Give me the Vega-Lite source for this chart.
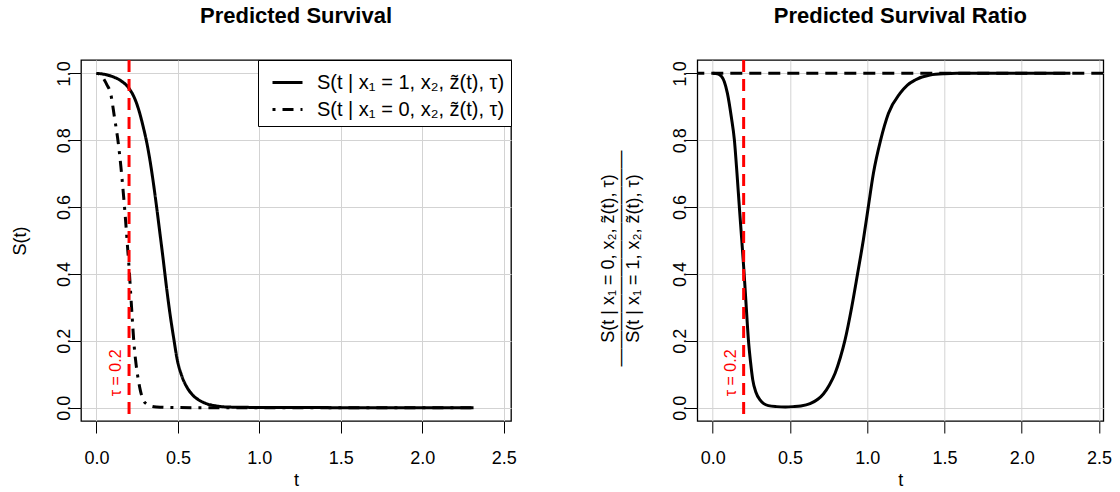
{
  "$schema": "https://vega.github.io/schema/vega-lite/v6.json",
  "autosize": {"type": "none"},
  "padding": {"left": 81, "top": 60, "right": 1039, "bottom": 432},
  "bounds": "flush",
  "spacing": 186.3,
  "background": "white",
  "config": {
    "font": "Liberation Sans",
    "view": {"stroke": "black", "strokeWidth": 1.3},
    "axis": {
      "domain": false, "grid": true, "gridColor": "#d3d3d3", "gridWidth": 1,
      "tickColor": "black", "tickSize": 12, "tickWidth": 1,
      "labelFontSize": 18, "labelColor": "black", "labelFont": "Liberation Sans",
      "titleFontSize": 18, "titleFontWeight": "normal", "titleColor": "black", "titleFont": "Liberation Sans",
      "titleLimit": 1000, "labelOverlap": false
    },
    "axisX": {"labelBaseline": "alphabetic", "labelPadding": 30, "titleBaseline": "alphabetic", "titleY": 64},
    "axisY": {"labelAngle": 270, "labelAlign": "center", "labelBaseline": "alphabetic", "labelPadding": 0, "titleAngle": 270, "titleBaseline": "alphabetic", "titleAlign": "center"},
    "title": {"fontSize": 22, "font": "Liberation Sans", "fontWeight": "bold", "frame": "group", "anchor": "middle", "baseline": "alphabetic", "offset": 31, "color": "black"},
    "legend": {
      "title": null, "orient": "top-right", "offset": 0, "padding": 6, "symbolOffset": 7,
      "strokeColor": "black", "fillColor": "white",
      "symbolType": "stroke", "symbolSize": 900, "symbolStrokeWidth": 3, "symbolStrokeColor": "black",
      "labelFontSize": 20, "labelFont": "Liberation Sans", "labelLimit": 400, "labelOffset": 13,
      "rowPadding": -8, "labelColor": "black"
    }
  },
  "datasets": {
    "surv": [
      {"t": 0, "S": 1.0, "series": "S(t | x₁ = 1, x₂, z̃(t), τ)"},
      {"t": 0.05, "S": 0.997, "series": "S(t | x₁ = 1, x₂, z̃(t), τ)"},
      {"t": 0.1, "S": 0.99, "series": "S(t | x₁ = 1, x₂, z̃(t), τ)"},
      {"t": 0.15, "S": 0.978, "series": "S(t | x₁ = 1, x₂, z̃(t), τ)"},
      {"t": 0.2, "S": 0.955, "series": "S(t | x₁ = 1, x₂, z̃(t), τ)"},
      {"t": 0.23, "S": 0.93, "series": "S(t | x₁ = 1, x₂, z̃(t), τ)"},
      {"t": 0.26, "S": 0.89, "series": "S(t | x₁ = 1, x₂, z̃(t), τ)"},
      {"t": 0.287, "S": 0.84, "series": "S(t | x₁ = 1, x₂, z̃(t), τ)"},
      {"t": 0.31, "S": 0.79, "series": "S(t | x₁ = 1, x₂, z̃(t), τ)"},
      {"t": 0.328, "S": 0.741, "series": "S(t | x₁ = 1, x₂, z̃(t), τ)"},
      {"t": 0.35, "S": 0.67, "series": "S(t | x₁ = 1, x₂, z̃(t), τ)"},
      {"t": 0.369, "S": 0.601, "series": "S(t | x₁ = 1, x₂, z̃(t), τ)"},
      {"t": 0.39, "S": 0.52, "series": "S(t | x₁ = 1, x₂, z̃(t), τ)"},
      {"t": 0.41, "S": 0.442, "series": "S(t | x₁ = 1, x₂, z̃(t), τ)"},
      {"t": 0.43, "S": 0.36, "series": "S(t | x₁ = 1, x₂, z̃(t), τ)"},
      {"t": 0.451, "S": 0.282, "series": "S(t | x₁ = 1, x₂, z̃(t), τ)"},
      {"t": 0.475, "S": 0.205, "series": "S(t | x₁ = 1, x₂, z̃(t), τ)"},
      {"t": 0.496, "S": 0.143, "series": "S(t | x₁ = 1, x₂, z̃(t), τ)"},
      {"t": 0.52, "S": 0.1, "series": "S(t | x₁ = 1, x₂, z̃(t), τ)"},
      {"t": 0.553, "S": 0.063, "series": "S(t | x₁ = 1, x₂, z̃(t), τ)"},
      {"t": 0.59, "S": 0.038, "series": "S(t | x₁ = 1, x₂, z̃(t), τ)"},
      {"t": 0.635, "S": 0.021, "series": "S(t | x₁ = 1, x₂, z̃(t), τ)"},
      {"t": 0.68, "S": 0.011, "series": "S(t | x₁ = 1, x₂, z̃(t), τ)"},
      {"t": 0.737, "S": 0.005, "series": "S(t | x₁ = 1, x₂, z̃(t), τ)"},
      {"t": 0.8, "S": 0.002, "series": "S(t | x₁ = 1, x₂, z̃(t), τ)"},
      {"t": 0.9, "S": 0.001, "series": "S(t | x₁ = 1, x₂, z̃(t), τ)"},
      {"t": 1.0, "S": 0.0005, "series": "S(t | x₁ = 1, x₂, z̃(t), τ)"},
      {"t": 1.2, "S": 0.0002, "series": "S(t | x₁ = 1, x₂, z̃(t), τ)"},
      {"t": 1.5, "S": 0.0, "series": "S(t | x₁ = 1, x₂, z̃(t), τ)"},
      {"t": 2.0, "S": 0.0, "series": "S(t | x₁ = 1, x₂, z̃(t), τ)"},
      {"t": 2.315, "S": 0.0, "series": "S(t | x₁ = 1, x₂, z̃(t), τ)"},
      {"t": 0, "S": 1.0, "series": "S(t | x₁ = 0, x₂, z̃(t), τ)"},
      {"t": 0.02, "S": 0.997, "series": "S(t | x₁ = 0, x₂, z̃(t), τ)"},
      {"t": 0.042, "S": 0.985, "series": "S(t | x₁ = 0, x₂, z̃(t), τ)"},
      {"t": 0.065, "S": 0.965, "series": "S(t | x₁ = 0, x₂, z̃(t), τ)"},
      {"t": 0.087, "S": 0.94, "series": "S(t | x₁ = 0, x₂, z̃(t), τ)"},
      {"t": 0.11, "S": 0.87, "series": "S(t | x₁ = 0, x₂, z̃(t), τ)"},
      {"t": 0.134, "S": 0.791, "series": "S(t | x₁ = 0, x₂, z̃(t), τ)"},
      {"t": 0.15, "S": 0.72, "series": "S(t | x₁ = 0, x₂, z̃(t), τ)"},
      {"t": 0.165, "S": 0.641, "series": "S(t | x₁ = 0, x₂, z̃(t), τ)"},
      {"t": 0.178, "S": 0.565, "series": "S(t | x₁ = 0, x₂, z̃(t), τ)"},
      {"t": 0.189, "S": 0.492, "series": "S(t | x₁ = 0, x₂, z̃(t), τ)"},
      {"t": 0.2, "S": 0.42, "series": "S(t | x₁ = 0, x₂, z̃(t), τ)"},
      {"t": 0.21, "S": 0.342, "series": "S(t | x₁ = 0, x₂, z̃(t), τ)"},
      {"t": 0.22, "S": 0.265, "series": "S(t | x₁ = 0, x₂, z̃(t), τ)"},
      {"t": 0.23, "S": 0.193, "series": "S(t | x₁ = 0, x₂, z̃(t), τ)"},
      {"t": 0.243, "S": 0.13, "series": "S(t | x₁ = 0, x₂, z̃(t), τ)"},
      {"t": 0.257, "S": 0.083, "series": "S(t | x₁ = 0, x₂, z̃(t), τ)"},
      {"t": 0.27, "S": 0.05, "series": "S(t | x₁ = 0, x₂, z̃(t), τ)"},
      {"t": 0.287, "S": 0.023, "series": "S(t | x₁ = 0, x₂, z̃(t), τ)"},
      {"t": 0.31, "S": 0.01, "series": "S(t | x₁ = 0, x₂, z̃(t), τ)"},
      {"t": 0.34, "S": 0.004, "series": "S(t | x₁ = 0, x₂, z̃(t), τ)"},
      {"t": 0.37, "S": 0.002, "series": "S(t | x₁ = 0, x₂, z̃(t), τ)"},
      {"t": 0.45, "S": 0.0005, "series": "S(t | x₁ = 0, x₂, z̃(t), τ)"},
      {"t": 0.6, "S": 0.0, "series": "S(t | x₁ = 0, x₂, z̃(t), τ)"},
      {"t": 1.0, "S": 0.0, "series": "S(t | x₁ = 0, x₂, z̃(t), τ)"},
      {"t": 1.5, "S": 0.0, "series": "S(t | x₁ = 0, x₂, z̃(t), τ)"},
      {"t": 2.0, "S": 0.0, "series": "S(t | x₁ = 0, x₂, z̃(t), τ)"},
      {"t": 2.315, "S": 0.0, "series": "S(t | x₁ = 0, x₂, z̃(t), τ)"}
    ],
    "ratio": [
      {"t": 0, "R": 1.0}, {"t": 0.03, "R": 0.999}, {"t": 0.058, "R": 0.99}, {"t": 0.075, "R": 0.975},
      {"t": 0.095, "R": 0.94}, {"t": 0.12, "R": 0.87}, {"t": 0.14, "R": 0.801}, {"t": 0.157, "R": 0.70},
      {"t": 0.172, "R": 0.601}, {"t": 0.188, "R": 0.50}, {"t": 0.203, "R": 0.402}, {"t": 0.217, "R": 0.30},
      {"t": 0.231, "R": 0.202}, {"t": 0.245, "R": 0.135}, {"t": 0.259, "R": 0.083}, {"t": 0.28, "R": 0.045},
      {"t": 0.306, "R": 0.023}, {"t": 0.33, "R": 0.012}, {"t": 0.36, "R": 0.006}, {"t": 0.414, "R": 0.003},
      {"t": 0.47, "R": 0.002}, {"t": 0.52, "R": 0.003}, {"t": 0.57, "R": 0.005}, {"t": 0.63, "R": 0.012},
      {"t": 0.68, "R": 0.025}, {"t": 0.716, "R": 0.041}, {"t": 0.755, "R": 0.068}, {"t": 0.792, "R": 0.103},
      {"t": 0.826, "R": 0.15}, {"t": 0.856, "R": 0.202}, {"t": 0.9, "R": 0.302}, {"t": 0.938, "R": 0.402},
      {"t": 0.975, "R": 0.502}, {"t": 1.007, "R": 0.601}, {"t": 1.04, "R": 0.701}, {"t": 1.087, "R": 0.801},
      {"t": 1.137, "R": 0.88}, {"t": 1.212, "R": 0.94}, {"t": 1.26, "R": 0.965}, {"t": 1.31, "R": 0.98},
      {"t": 1.406, "R": 0.995}, {"t": 1.5, "R": 0.999}, {"t": 1.58, "R": 1.0}, {"t": 2.0, "R": 1.0}, {"t": 2.315, "R": 1.0}
    ],
    "tau": [{"t": 0.2, "ly": 0.104, "label": "τ = 0.2"}],
    "ref": [{"y": 1}]
  },
  "hconcat": [
    {
      "width": 430, "height": 361,
      "title": {"text": "Predicted Survival"},
      "resolve": {"scale": {"strokeDash": "independent"}, "legend": {"strokeDash": "independent"}},
      "layer": [
        {
          "data": {"name": "surv"},
          "mark": {"type": "line", "strokeWidth": 3, "color": "black", "interpolate": "monotone", "strokeCap": "butt"},
          "encoding": {
            "x": {"field": "t", "type": "quantitative",
                  "scale": {"domain": [-0.095, 2.545], "nice": false, "zero": false},
                  "axis": {"values": [0, 0.5, 1, 1.5, 2, 2.5], "format": ".1f", "title": "t"}},
            "y": {"field": "S", "type": "quantitative",
                  "scale": {"domain": [-0.04, 1.04], "nice": false, "zero": false},
                  "axis": {"values": [0, 0.2, 0.4, 0.6, 0.8, 1.0], "format": ".1f", "title": "S(t)", "titleX": -56, "titleY": 180.5}},
            "strokeDash": {"field": "series", "type": "nominal",
                  "scale": {"domain": ["S(t | x₁ = 1, x₂, z̃(t), τ)", "S(t | x₁ = 0, x₂, z̃(t), τ)"], "range": [[1, 0], [3, 7, 11, 7]]},
                  "legend": {"title": null}}
          }
        },
        {
          "data": {"name": "tau"},
          "mark": {"type": "rule", "color": "red", "strokeWidth": 3, "strokeDash": [12, 7]},
          "encoding": {"x": {"field": "t", "type": "quantitative"}}
        },
        {
          "data": {"name": "tau"},
          "mark": {"type": "text", "color": "red", "angle": 270, "fontSize": 16, "dy": -13, "align": "center", "baseline": "middle"},
          "encoding": {
            "x": {"field": "t", "type": "quantitative"},
            "y": {"field": "ly", "type": "quantitative"},
            "text": {"field": "label"}
          }
        }
      ]
    },
    {
      "width": 406, "height": 361,
      "title": {"text": "Predicted Survival Ratio"},
      "layer": [
        {
          "data": {"name": "ratio"},
          "mark": {"type": "line", "strokeWidth": 3, "color": "black", "interpolate": "monotone"},
          "encoding": {
            "x": {"field": "t", "type": "quantitative",
                  "scale": {"domain": [-0.1, 2.528], "nice": false, "zero": false},
                  "axis": {"values": [0, 0.5, 1, 1.5, 2, 2.5], "format": ".1f", "title": "t"}},
            "y": {"field": "R", "type": "quantitative",
                  "scale": {"domain": [-0.04, 1.04], "nice": false, "zero": false},
                  "axis": {"values": [0, 0.2, 0.4, 0.6, 0.8, 1.0], "format": ".1f",
                           "title": ["S(t | x₁ = 0, x₂, z̃(t), τ)", "————————————", "S(t | x₁ = 1, x₂, z̃(t), τ)"],
                           "titleLineHeight": 12.5, "titleX": -84, "titleY": 198}}
          }
        },
        {
          "data": {"name": "ref"},
          "mark": {"type": "rule", "color": "black", "strokeWidth": 3, "strokeDash": [12, 7]},
          "encoding": {"y": {"field": "y", "type": "quantitative"}}
        },
        {
          "data": {"name": "tau"},
          "mark": {"type": "rule", "color": "red", "strokeWidth": 3, "strokeDash": [12, 7]},
          "encoding": {"x": {"field": "t", "type": "quantitative"}}
        },
        {
          "data": {"name": "tau"},
          "mark": {"type": "text", "color": "red", "angle": 270, "fontSize": 16, "dy": -13, "align": "center", "baseline": "middle"},
          "encoding": {
            "x": {"field": "t", "type": "quantitative"},
            "y": {"field": "ly", "type": "quantitative"},
            "text": {"field": "label"}
          }
        }
      ]
    }
  ]
}
